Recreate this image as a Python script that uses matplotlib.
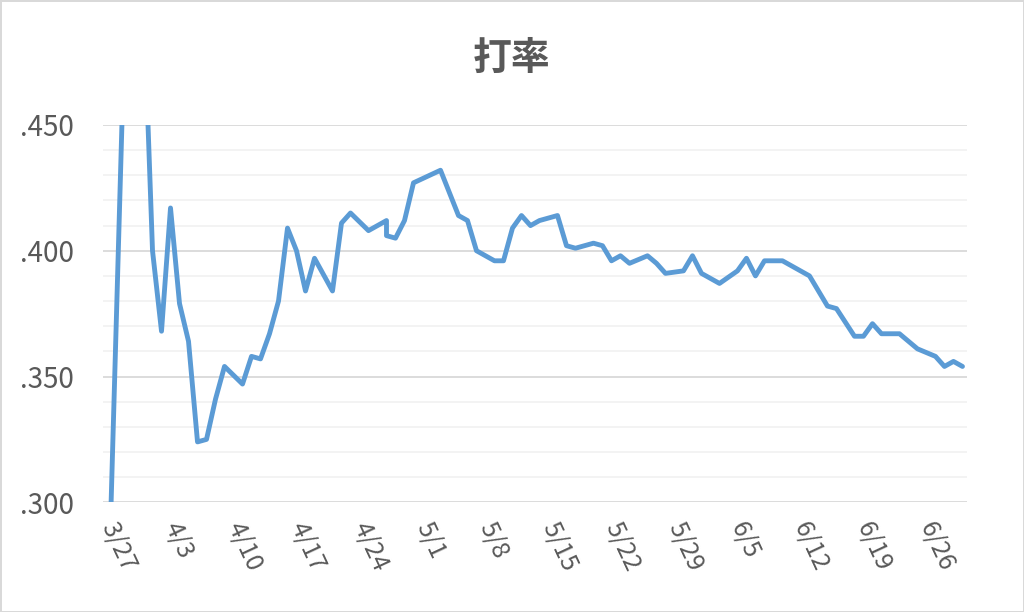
import numpy as np
import pandas as pd
import matplotlib
matplotlib.use('Agg')
import matplotlib.pyplot as plt
import matplotlib.dates as mdates
from matplotlib.ticker import MultipleLocator, FuncFormatter

plt.rcParams['font.family'] = ['Noto Sans CJK JP', 'DejaVu Sans']

# game dates (2019 season assumed) and batting average after each game
dates = ['3/27', '3/28', '3/29', '3/30', '3/31', '4/1', '4/2', '4/3', '4/4', '4/5',
         '4/6', '4/7', '4/8', '4/9', '4/11', '4/12', '4/13', '4/14', '4/15', '4/16',
         '4/17', '4/18', '4/19', '4/21', '4/22', '4/23', '4/25', '4/27', '4/27', '4/28',
         '4/29', '4/30', '5/3', '5/5', '5/6', '5/7', '5/9', '5/10', '5/11', '5/12',
         '5/13', '5/14', '5/16', '5/17', '5/18', '5/20', '5/21', '5/22', '5/23', '5/24',
         '5/26', '5/27', '5/28', '5/30', '5/31', '6/1', '6/3', '6/5', '6/6', '6/7',
         '6/8', '6/10', '6/11', '6/13', '6/15', '6/16', '6/18', '6/19', '6/20', '6/21',
         '6/23', '6/25', '6/27', '6/28', '6/29', '6/30']
avg = [.250, .375, .500, .529, .500, .400, .368, .417, .379, .364,
       .324, .325, .341, .354, .347, .358, .357, .367, .380, .409,
       .400, .384, .397, .384, .411, .415, .408, .412, .406, .405,
       .412, .427, .432, .414, .412, .400, .396, .396, .409, .414,
       .410, .412, .414, .402, .401, .403, .402, .396, .398, .395,
       .398, .395, .391, .392, .398, .391, .387, .392, .397, .390,
       .396, .396, .394, .390, .378, .377, .366, .366, .371, .367,
       .367, .361, .358, .354, .356, .354]

tick_dates = ['3/27', '4/3', '4/10', '4/17', '4/24', '5/1', '5/8', '5/15',
              '5/22', '5/29', '6/5', '6/12', '6/19', '6/26']

YEAR = 2019
x = pd.to_datetime(['%d/%s' % (YEAR, d) for d in dates], format='%Y/%m/%d')
xt = pd.to_datetime(['%d/%s' % (YEAR, d) for d in tick_dates], format='%Y/%m/%d')

TXT = '#595959'

fig = plt.figure(figsize=(10.24, 6.12), dpi=100, facecolor='white',
                 edgecolor='#D9D9D9', linewidth=2)
ax = fig.add_axes([0.1006, 0.1793, 0.8437, 0.6165])

ax.plot(x, avg, color='#5B9BD5', linewidth=3.5, solid_joinstyle='round',
        solid_capstyle='round', zorder=3)

x0 = mdates.date2num(xt[0])
ax.set_xlim(x0 - 0.5, x0 + 95.5)
ax.set_ylim(0.300, 0.450)

ax.yaxis.set_major_locator(MultipleLocator(0.05))
ax.yaxis.set_minor_locator(MultipleLocator(0.01))
ax.yaxis.set_major_formatter(FuncFormatter(lambda v, p: ('%.3f' % v)[1:]))
ax.grid(True, which='major', axis='y', color='#D9D9D9', linewidth=1.3, zorder=0)
ax.grid(True, which='minor', axis='y', color='#F2F2F2', linewidth=1.3, zorder=0)
ax.set_axisbelow(True)

ax.set_xticks(xt)
ax.set_xticklabels(tick_dates, rotation=-65, ha='left', va='center',
                   rotation_mode='anchor')

ax.tick_params(axis='both', which='both', length=0, colors=TXT)
ax.tick_params(axis='x', pad=15, labelsize=18)
ax.tick_params(axis='y', pad=21, labelsize=20)

for s in ax.spines.values():
    s.set_visible(False)

fig.text(0.5, 0.905, '打率', ha='center', va='center', fontsize=28,
         fontweight='bold', color=TXT)

fig.savefig('out.png', dpi=100)
